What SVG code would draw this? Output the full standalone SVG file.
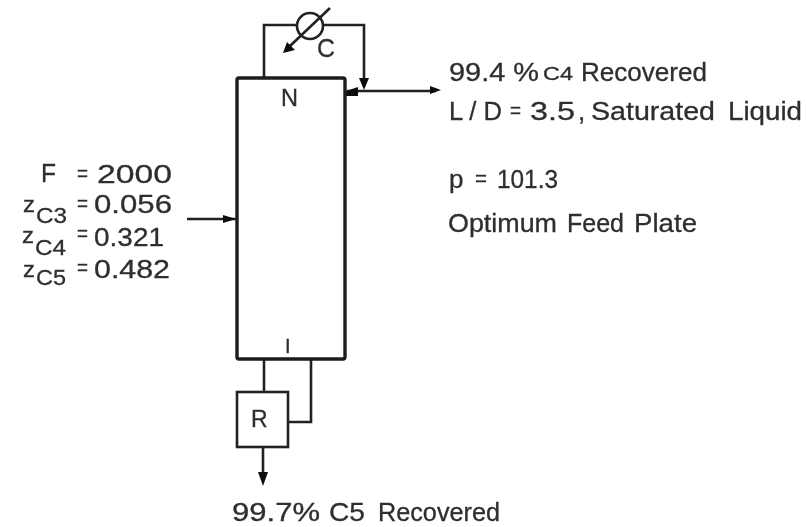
<svg xmlns="http://www.w3.org/2000/svg" width="807" height="527" viewBox="0 0 807 527">
<defs><filter id="soft" x="-2%" y="-2%" width="104%" height="104%"><feGaussianBlur stdDeviation="0.6"/></filter></defs>
<style>
text{font-family:"Liberation Sans",Arial,sans-serif;fill:#2e2e2e;font-size:26px;stroke:#2e2e2e;stroke-width:.3}
.l{fill:none;stroke:#222;stroke-width:2.6}
.b{fill:none;stroke:#1a1a1a;stroke-width:3.4}
.a{fill:#111;stroke:none}
.s{font-size:22px}
.e{font-size:22px}
</style>
<rect width="807" height="527" fill="#fff"/>
<g filter="url(#soft)">
<g id="connectors">
<path class="l" d="M264 78V25H298M324 25H364V84"/>
<path class="l" d="M347 91H436"/>
<path class="l" d="M187 219H236"/>
<path class="l" d="M264 359V392"/>
<path class="l" d="M311 359V422H288"/>
<path class="l" d="M263 447V476"/>
<path class="l" d="M330 8L290 46"/>
<path class="a" d="M283 53L287 42L295 50Z"/>
<path class="a" d="M359 78H369L364 90Z"/>
<path class="a" d="M346 91L358 87V96H346Z"/>
<path class="a" d="M441 90L430 86V94Z"/>
<path class="a" d="M236 219L223 215V223Z"/>
<path class="a" d="M263 486L258 472H268Z"/>
</g>
<g id="column"><rect class="b" x="237" y="78" width="108" height="281" rx="2"/>
<text x="281" y="106" style="font-size:24px" textLength="17" lengthAdjust="spacingAndGlyphs">N</text><text x="285" y="353" style="font-size:20px">I</text></g>
<g id="condenser"><circle class="l" cx="310" cy="26" r="13"/><text x="317" y="57" style="font-size:26px" textLength="18" lengthAdjust="spacingAndGlyphs">C</text></g>
<g id="reboiler"><rect class="l" x="237" y="392" width="51" height="55"/><text x="251" y="427" style="font-size:23px">R</text></g>
<g id="feed">
<text x="41" y="182" textLength="15" lengthAdjust="spacingAndGlyphs">F</text><text class="e" x="77" y="181" textLength="11" lengthAdjust="spacingAndGlyphs">=</text><text x="97" y="183" textLength="75" lengthAdjust="spacingAndGlyphs">2000</text>
<text class="s" x="23" y="212" textLength="12" lengthAdjust="spacingAndGlyphs">z</text><text class="s" x="36" y="223" textLength="31" lengthAdjust="spacingAndGlyphs">C3</text><text class="e" x="77" y="211" textLength="11" lengthAdjust="spacingAndGlyphs">=</text><text x="94" y="213" textLength="78" lengthAdjust="spacingAndGlyphs">0.056</text>
<text class="s" x="22" y="243" textLength="12" lengthAdjust="spacingAndGlyphs">z</text><text class="s" x="35" y="255" textLength="31" lengthAdjust="spacingAndGlyphs">C4</text><text class="e" x="77" y="241" textLength="11" lengthAdjust="spacingAndGlyphs">=</text><text x="94" y="246" textLength="70" lengthAdjust="spacingAndGlyphs">0.321</text>
<text class="s" x="23" y="277" textLength="12" lengthAdjust="spacingAndGlyphs">z</text><text class="s" x="36" y="285" textLength="30" lengthAdjust="spacingAndGlyphs">C5</text><text class="e" x="77" y="275" textLength="11" lengthAdjust="spacingAndGlyphs">=</text><text x="94" y="278" textLength="76" lengthAdjust="spacingAndGlyphs">0.482</text>
</g>
<g id="labels">
<text x="449" y="81" textLength="90" lengthAdjust="spacingAndGlyphs">99.4 %</text><text x="543" y="80" style="font-size:19px" textLength="30" lengthAdjust="spacingAndGlyphs">C4</text><text x="581" y="81" textLength="126" lengthAdjust="spacingAndGlyphs">Recovered</text>
<text x="449" y="120" textLength="53" lengthAdjust="spacingAndGlyphs">L / D</text><text class="e" x="510" y="118" textLength="11" lengthAdjust="spacingAndGlyphs">=</text><text x="530" y="120" textLength="45" lengthAdjust="spacingAndGlyphs">3.5</text><text x="578" y="120">,</text><text x="591" y="120" textLength="124" lengthAdjust="spacingAndGlyphs">Saturated</text><text x="728" y="120" textLength="74" lengthAdjust="spacingAndGlyphs">Liquid</text>
<text x="449" y="188">p</text><text class="e" x="475" y="186" textLength="12" lengthAdjust="spacingAndGlyphs">=</text><text x="497" y="188" textLength="61" lengthAdjust="spacingAndGlyphs">101.3</text>
<text x="448" y="232" style="font-size:25px" textLength="109" lengthAdjust="spacingAndGlyphs">Optimum</text><text x="567" y="232" style="font-size:25px" textLength="57" lengthAdjust="spacingAndGlyphs">Feed</text><text x="634" y="232" style="font-size:25px" textLength="63" lengthAdjust="spacingAndGlyphs">Plate</text>
<text x="232" y="521" textLength="88" lengthAdjust="spacingAndGlyphs">99.7%</text><text x="329" y="521" textLength="36" lengthAdjust="spacingAndGlyphs">C5</text><text x="378" y="521" textLength="122" lengthAdjust="spacingAndGlyphs">Recovered</text>
</g>
</g>
</svg>
